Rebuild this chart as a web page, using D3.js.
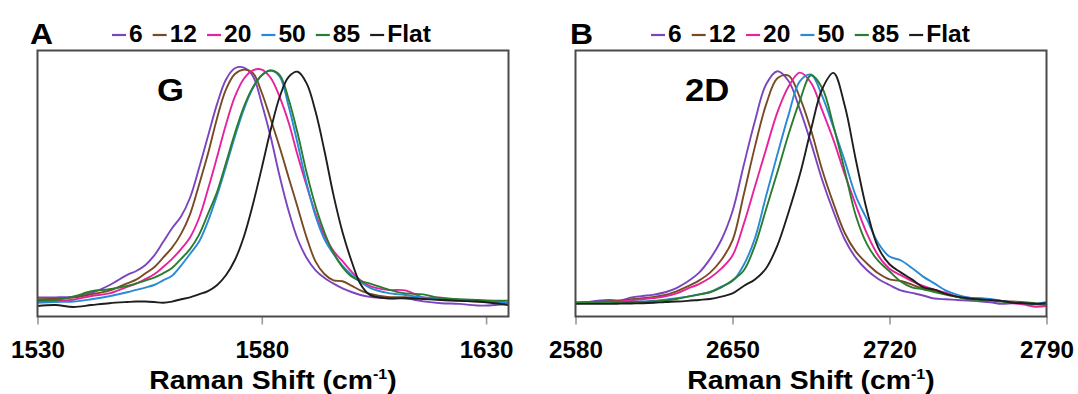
<!DOCTYPE html>
<html>
<head>
<meta charset="utf-8">
<script src="https://cdn.jsdelivr.net/npm/d3@7"></script>
<style>
  html, body { margin: 0; padding: 0; background: #fff; }
  svg text { font-family: "Liberation Sans", Arial, sans-serif; font-weight: bold; fill: #000; }
</style>
</head>
<body>
<svg id="fig" width="1078" height="394"></svg>
<script>
// Raman spectra (normalized intensity) of the G and 2D bands for each sample
const seriesNames = ["6", "12", "20", "50", "85", "Flat"];
const seriesColors = ["#7b45bf", "#7a4b22", "#e6239d", "#2b8ad6", "#2a7d2e", "#1e1e1e"];

// G band
const shiftG = [1530, 1534, 1538, 1542, 1546, 1550,
  1552, 1554, 1556, 1558, 1560, 1562, 1564, 1566, 1568, 1570, 1572, 1574, 1576, 1578,
  1580, 1582, 1584, 1586, 1588, 1590, 1592, 1594, 1596, 1598, 1600, 1602, 1604,
  1608, 1612, 1616, 1620, 1624, 1628, 1632, 1635];
const g6 = [0.012, 0.012, 0.015, 0.031, 0.064, 0.108,
  0.125, 0.150, 0.191, 0.249, 0.308, 0.359, 0.439, 0.565, 0.702, 0.839, 0.945, 0.994, 0.997, 0.961,
  0.842, 0.698, 0.530, 0.381, 0.261, 0.181, 0.128, 0.095, 0.071, 0.051, 0.035, 0.022, 0.014,
  0.008, 0.008, -0.005, -0.013, -0.016, -0.023, -0.021, -0.013];
const g12 = [0.004, 0.006, 0.011, 0.025, 0.041, 0.072,
  0.088, 0.114, 0.141, 0.182, 0.225, 0.284, 0.368, 0.494, 0.627, 0.778, 0.902, 0.969, 0.988, 0.974,
  0.889, 0.774, 0.654, 0.525, 0.397, 0.268, 0.165, 0.111, 0.085, 0.081, 0.062, 0.042, 0.028,
  0.014, 0.013, 0.008, 0.001, -0.002, -0.006, -0.010, -0.013];
const g20 = [-0.006, -0.003, 0.002, 0.018, 0.029, 0.057,
  0.071, 0.090, 0.111, 0.142, 0.177, 0.219, 0.269, 0.351, 0.475, 0.611, 0.752, 0.872, 0.949, 0.985,
  0.988, 0.952, 0.870, 0.760, 0.620, 0.490, 0.370, 0.275, 0.210, 0.167, 0.122, 0.085, 0.061,
  0.044, 0.042, 0.012, 0.011, 0.002, -0.003, -0.008, -0.013];
const g50 = [-0.011, -0.008, -0.006, 0.004, 0.017, 0.034,
  0.044, 0.054, 0.065, 0.085, 0.105, 0.148, 0.198, 0.250, 0.338, 0.448, 0.572, 0.701, 0.818, 0.908,
  0.964, 0.984, 0.958, 0.830, 0.670, 0.500, 0.360, 0.260, 0.198, 0.147, 0.109, 0.078, 0.054,
  0.031, 0.022, 0.012, 0.004, 0.001, -0.002, -0.006, -0.011];
const g85 = [-0.002, 0.001, 0.015, 0.038, 0.047, 0.061,
  0.072, 0.084, 0.097, 0.115, 0.138, 0.177, 0.219, 0.280, 0.370, 0.462, 0.587, 0.715, 0.829, 0.912,
  0.964, 0.984, 0.964, 0.860, 0.714, 0.546, 0.402, 0.289, 0.202, 0.141, 0.101, 0.082, 0.072,
  0.047, 0.029, 0.025, 0.008, 0.004, 0.001, -0.002, -0.002];
const gFlat = [-0.025, -0.021, -0.029, -0.021, -0.013, -0.008,
  -0.006, -0.006, -0.008, -0.011, -0.006, 0.004, 0.012, 0.025, 0.039, 0.064, 0.107, 0.172, 0.272, 0.409,
  0.567, 0.731, 0.872, 0.957, 0.979, 0.929, 0.807, 0.637, 0.449, 0.291, 0.168, 0.069, 0.024,
  0.008, 0.008, 0.005, 0.001, -0.003, -0.006, -0.013, -0.021];

// 2D band
const shift2D = [2580, 2585, 2590, 2595, 2600, 2605, 2610, 2615, 2620, 2625, 2630, 2635, 2640,
  2645, 2650, 2655, 2660, 2665, 2670, 2675, 2680, 2685, 2690, 2695, 2700, 2705, 2710, 2715,
  2720, 2725, 2730, 2735, 2740, 2745, 2750, 2755, 2760, 2765, 2770, 2775, 2780, 2785, 2790];
const d6 = [-0.011, -0.008, -0.002, 0.001, -0.001, 0.012, 0.018, 0.024, 0.034, 0.052, 0.080, 0.117, 0.177,
  0.258, 0.381, 0.578, 0.768, 0.925, 0.981, 0.939, 0.819, 0.674, 0.515, 0.380, 0.261, 0.181, 0.128, 0.091,
  0.065, 0.042, 0.031, 0.020, 0.007, 0.004, 0.001, -0.002, -0.005, -0.009, -0.016, -0.013, -0.015, -0.018, -0.021];
const d12 = [-0.011, -0.009, -0.008, -0.006, -0.002, 0.004, 0.008, 0.014, 0.022, 0.038, 0.059, 0.084, 0.118,
  0.172, 0.256, 0.452, 0.658, 0.839, 0.951, 0.962, 0.869, 0.729, 0.558, 0.415, 0.289, 0.208, 0.157, 0.115,
  0.089, 0.082, 0.067, 0.048, 0.042, 0.031, 0.015, 0.008, 0.004, 0.001, -0.003, -0.006, -0.009, -0.013, -0.016];
const d20 = [-0.013, -0.012, -0.011, -0.009, -0.005, -0.001, 0.004, 0.009, 0.016, 0.029, 0.049, 0.069, 0.096,
  0.135, 0.191, 0.326, 0.487, 0.648, 0.805, 0.916, 0.975, 0.932, 0.813, 0.687, 0.541, 0.408, 0.284, 0.191,
  0.135, 0.107, 0.082, 0.061, 0.045, 0.032, 0.015, 0.011, 0.007, 0.002, -0.005, -0.012, -0.019, -0.028, -0.025];
const d50 = [-0.011, -0.010, -0.009, -0.009, -0.008, -0.007, -0.006, -0.002, 0.002, 0.008, 0.015, 0.025, 0.035,
  0.058, 0.082, 0.151, 0.265, 0.448, 0.624, 0.794, 0.938, 0.967, 0.874, 0.740, 0.598, 0.446, 0.345, 0.244,
  0.187, 0.171, 0.138, 0.101, 0.072, 0.042, 0.024, 0.012, 0.008, 0.005, -0.003, -0.009, -0.012, -0.016, -0.008];
const d85 = [-0.011, -0.010, -0.009, -0.009, -0.009, -0.008, -0.008, -0.005, -0.001, 0.005, 0.015, 0.024, 0.034,
  0.055, 0.085, 0.127, 0.234, 0.391, 0.548, 0.711, 0.854, 0.964, 0.909, 0.748, 0.557, 0.362, 0.239, 0.168,
  0.124, 0.080, 0.055, 0.047, 0.035, 0.024, 0.014, 0.004, 0.001, -0.002, -0.006, -0.011, -0.012, -0.015, -0.016];
const dFlat = [-0.016, -0.016, -0.016, -0.016, -0.015, -0.014, -0.013, -0.011, -0.008, -0.006, -0.003, 0.001, 0.005,
  0.015, 0.029, 0.061, 0.089, 0.137, 0.234, 0.377, 0.537, 0.731, 0.905, 0.974, 0.835, 0.601, 0.382, 0.225,
  0.154, 0.119, 0.089, 0.055, 0.045, 0.027, 0.015, 0.008, 0.004, 0.001, -0.003, -0.011, -0.013, -0.016, -0.013];

const ticksG = [1530, 1580, 1630];
const ticks2D = [2580, 2650, 2720, 2790];
const axisTitle = "Raman Shift (cm";
const axisTitleSup = "-1";

const panels = [
  { letter: "A", band: "G", shift: shiftG, series: [g6, g12, g20, g50, g85, gFlat],
    domain: [1530, 1635], ticks: ticksG, left: 37.5, right: 508.5,
    letterX: 30, legendX: 112, bandX: 157 },
  { letter: "B", band: "2D", shift: shift2D, series: [d6, d12, d20, d50, d85, dFlat],
    domain: [2580, 2790], ticks: ticks2D, left: 575.5, right: 1046.5,
    letterX: 570, legendX: 651, bandX: 685 }
];

const svg = d3.select("#fig");
const plotTop = 50.5, plotBottom = 316.5;
const y = d3.scaleLinear().domain([-0.07, 1.07]).range([plotBottom, plotTop]);

// widen a text horizontally about its anchor point
function widen(sel, sx) {
  sel.each(function () {
    const t = d3.select(this);
    const tx = +t.attr("x") || 0, ty = +t.attr("y") || 0;
    t.attr("transform", `translate(${tx},${ty}) scale(${sx},1) translate(${-tx},${-ty})`);
  });
}

panels.forEach((p, pi) => {
  const x = d3.scaleLinear().domain(p.domain).range([p.left, p.right]);
  const g = svg.append("g");

  const clipId = "clip" + pi;
  svg.append("clipPath").attr("id", clipId)
    .append("rect").attr("x", p.left).attr("y", plotTop)
    .attr("width", p.right - p.left).attr("height", plotBottom - plotTop);

  // spectra
  const line = d3.line()
    .x(d => x(d[0])).y(d => y(d[1]))
    .curve(d3.curveCatmullRom.alpha(0.5));
  const plot = g.append("g").attr("clip-path", `url(#${clipId})`);
  p.series.forEach((vals, si) => {
    plot.append("path")
      .datum(p.shift.map((w, i) => [w, vals[i]]))
      .attr("d", line)
      .attr("fill", "none")
      .attr("stroke", seriesColors[si])
      .attr("stroke-width", 1.9)
      .attr("stroke-linejoin", "round");
  });

  // x axis
  const axis = d3.axisBottom(x).tickValues(p.ticks).tickSize(8).tickPadding(16.5)
    .tickFormat(d3.format("d"));
  const ax = g.append("g").attr("transform", `translate(0,${plotBottom})`).call(axis);
  ax.select(".domain").remove();
  ax.selectAll(".tick line").attr("stroke", "#9a9a9a").attr("stroke-width", 1.6);
  ax.selectAll(".tick text")
    .style("font-family", '"Liberation Sans", Arial, sans-serif')
    .style("font-weight", "bold").style("font-size", "23.5px").attr("fill", "#000");
  widen(ax.selectAll(".tick text"), 1.03);

  // plot frame
  g.append("rect")
    .attr("x", p.left).attr("y", plotTop)
    .attr("width", p.right - p.left).attr("height", plotBottom - plotTop)
    .attr("fill", "none").attr("stroke", "#4a4a4a").attr("stroke-width", 2);

  // axis title
  const t = g.append("text")
    .attr("x", (p.left + p.right) / 2).attr("y", 389)
    .attr("text-anchor", "middle").style("font-size", "26.5px");
  t.append("tspan").text(axisTitle);
  t.append("tspan").text(axisTitleSup).style("font-size", "15px").attr("dy", -10);
  t.append("tspan").text(")").attr("dy", 10);
  widen(t, 1.07);

  // panel letter and band label
  widen(g.append("text").attr("x", p.letterX).attr("y", 44).style("font-size", "29px").text(p.letter), 1.1);
  widen(g.append("text").attr("x", p.bandX).attr("y", 101).style("font-size", "31px").text(p.band), 1.12);

  // legend
  let lx = p.legendX;
  seriesNames.forEach((name, si) => {
    g.append("line")
      .attr("x1", lx).attr("x2", lx + 14).attr("y1", 35).attr("y2", 35)
      .attr("stroke", seriesColors[si]).attr("stroke-width", 2.2);
    const tx = g.append("text").attr("x", lx + 17).attr("y", 42.5)
      .style("font-size", "23px").text(name);
    const sx = 1.07;
    widen(tx, sx);
    lx = lx + 17 + tx.node().getComputedTextLength() * sx + 10;
  });
});
</script>
</body>
</html>
